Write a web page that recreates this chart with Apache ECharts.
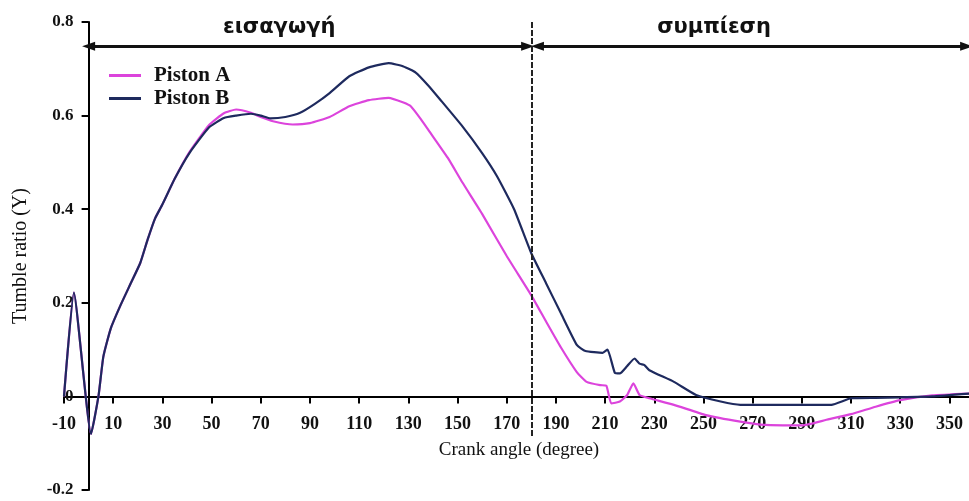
<!DOCTYPE html>
<html>
<head>
<meta charset="utf-8">
<script src="https://cdn.jsdelivr.net/npm/echarts@6/dist/echarts.min.js"></script>
<style>
  html, body { margin: 0; padding: 0; background: #ffffff; }
  #chart { width: 969px; height: 501px; }
</style>
</head>
<body>
<div id="chart"></div>
<script>
// Tumble ratio vs crank angle for two piston designs
var seriesNames = ['Piston A', 'Piston B'];

var anglesA = [-10, -6, 1, 4, 6, 9, 13, 17, 21, 24, 27, 30, 35, 41, 49, 55, 60, 66, 70, 75, 83, 90, 98, 106, 114, 122, 128, 131, 135, 139, 146, 152, 160, 170, 180, 186, 192, 198.5, 202.5, 208, 210.5, 212.5, 216, 219, 221.5, 224, 228, 238, 251, 265, 275, 290, 300, 310, 320, 330, 343, 358];
var tumbleA = [0, 0.222, -0.08, 0, 0.085, 0.145, 0.195, 0.24, 0.285, 0.335, 0.38, 0.41, 0.465, 0.522, 0.58, 0.605, 0.613, 0.606, 0.597, 0.588, 0.581, 0.584, 0.597, 0.62, 0.633, 0.638, 0.628, 0.62, 0.593, 0.563, 0.51, 0.457, 0.39, 0.30, 0.216, 0.16, 0.105, 0.052, 0.031, 0.024, 0.023, -0.015, -0.011, 0.003, 0.028, 0.003, -0.004, -0.018, -0.04, -0.054, -0.061, -0.062, -0.05, -0.038, -0.022, -0.008, 0.002, 0.006];

var anglesB = [-10, -6, 1, 4, 6, 9, 13, 17, 21, 24, 27, 30, 35, 41, 49, 55, 60, 66, 70, 74, 80, 86, 92, 98, 106, 114, 122, 128, 133, 138, 143, 152, 160, 166, 173, 180, 186, 192, 198.5, 202, 209, 211, 214, 216, 219, 222, 224, 226, 228, 238, 247, 257, 265, 285, 302, 310, 320, 330, 343, 358];
var tumbleB = [0, 0.222, -0.08, 0, 0.085, 0.145, 0.195, 0.24, 0.285, 0.335, 0.38, 0.41, 0.465, 0.52, 0.575, 0.595, 0.6, 0.604, 0.6, 0.594, 0.597, 0.606, 0.625, 0.648, 0.684, 0.703, 0.712, 0.705, 0.692, 0.665, 0.634, 0.577, 0.52, 0.471, 0.4, 0.306, 0.242, 0.178, 0.11, 0.097, 0.093, 0.1, 0.05, 0.049, 0.065, 0.081, 0.07, 0.067, 0.056, 0.031, 0.003, -0.011, -0.018, -0.018, -0.018, -0.004, -0.003, -0.002, 0, 0.006];

// Stroke phases (intake / compression) and their boundary angle
var phaseLabels = ['εισαγωγή', 'συμπίεση'];
var phaseLabelAngles = [77.5, 254.3];
var phaseBoundary = 180;
var phaseArrowSpans = [[0, 178.5], [182.5, 357]];
var arrowLevel = 0.748;
var labelLevel = 0.788;

var xTicks = { min: -10, max: 360, interval: 20 };
var yTicks = { min: -0.2, max: 0.8, interval: 0.2 };

function pairs(xs, ys) {
  return xs.map(function (x, i) { return [x, ys[i]]; });
}

var serif = '"Liberation Serif", "DejaVu Serif", serif';
var sans = '"DejaVu Sans", "Noto Sans", sans-serif';
var colorA = '#dc44dc';
var colorB = '#1e2a5e';

// Plot area; axes cross at the origin, so each axis is shifted in from the grid edge
var plot = { left: 64, top: 22, width: 910, height: 468 };
var xAxisShift = -plot.height * (0 - yTicks.min) / (yTicks.max - yTicks.min);
var yAxisShift = -plot.width * (0 - xTicks.min) / (xTicks.max - xTicks.min);

var chart = echarts.init(document.getElementById('chart'), null, { renderer: 'canvas' });

var arrowLines = phaseArrowSpans.map(function (s) {
  return [
    { coord: [s[0], arrowLevel], symbol: 'triangle', symbolSize: [9, 13], symbolRotate: 90 },
    { coord: [s[1], arrowLevel], symbol: 'triangle', symbolSize: [9, 13], symbolRotate: -90 }
  ];
});

var option = {
  animation: false,
  backgroundColor: '#ffffff',
  grid: { left: plot.left, top: plot.top, width: plot.width, height: plot.height, containLabel: false, outerBoundsMode: 'none' },
  legend: {
    data: [
      { name: seriesNames[0], icon: 'rect', itemStyle: { color: colorA } },
      { name: seriesNames[1], icon: 'rect', itemStyle: { color: colorB } }
    ],
    orient: 'vertical',
    left: 104,
    top: 59,
    itemGap: 0,
    itemWidth: 32,
    itemHeight: 3,
    textStyle: { fontFamily: serif, fontSize: 21, fontWeight: 'bold', color: '#111', padding: [0, 0, 0, 8], lineHeight: 23 }
  },
  xAxis: {
    type: 'value',
    min: xTicks.min,
    max: xTicks.max,
    interval: xTicks.interval,
    position: 'bottom',
    offset: xAxisShift,
    name: 'Crank angle (degree)',
    nameLocation: 'middle',
    nameGap: 44,
    nameTextStyle: { fontFamily: serif, fontSize: 19, color: '#111' },
    axisLine: { onZero: false, lineStyle: { color: '#000', width: 2 } },
    axisTick: { show: true, inside: false, length: 7, lineStyle: { color: '#000', width: 2 } },
    axisLabel: { fontFamily: serif, fontSize: 18, fontWeight: 'bold', color: '#111', margin: 19, showMaxLabel: false },
    splitLine: { show: false }
  },
  yAxis: {
    type: 'value',
    min: yTicks.min,
    max: yTicks.max,
    interval: yTicks.interval,
    position: 'left',
    offset: yAxisShift,
    name: 'Tumble ratio (Y)',
    nameLocation: 'middle',
    nameGap: 58,
    nameRotate: 90,
    nameTextStyle: { fontFamily: serif, fontSize: 20, color: '#111' },
    axisLine: { onZero: false, lineStyle: { color: '#000', width: 2 } },
    axisTick: { show: true, inside: false, length: 7, lineStyle: { color: '#000', width: 2 } },
    axisLabel: { fontFamily: serif, fontSize: 17, fontWeight: 'bold', color: '#111', margin: 15 },
    splitLine: { show: false }
  },
  series: [
    {
      name: seriesNames[0],
      type: 'line',
      data: pairs(anglesA, tumbleA),
      symbol: 'none',
      smooth: 0.15,
      color: colorA,
      lineStyle: { color: colorA, width: 2.2 },
      z: 3
    },
    {
      name: seriesNames[1],
      type: 'line',
      data: pairs(anglesB, tumbleB),
      symbol: 'none',
      smooth: 0.15,
      color: colorB,
      lineStyle: { color: colorB, width: 2.2 },
      z: 4,
      markLine: {
        silent: true,
        animation: false,
        label: { show: false },
        emphasis: { disabled: true },
        lineStyle: { color: '#111', width: 3, type: 'solid' },
        data: arrowLines.concat([
          [
            { coord: [phaseBoundary, yTicks.max], symbol: 'none', lineStyle: { type: [6, 2], width: 2, color: '#222' } },
            { coord: [phaseBoundary, -0.085], symbol: 'none' }
          ]
        ])
      },
      markPoint: {
        silent: true,
        animation: false,
        symbol: 'circle',
        symbolSize: 1,
        itemStyle: { color: 'rgba(0,0,0,0)' },
        label: {
          show: true,
          position: 'inside',
          fontFamily: sans,
          fontSize: 21,
          fontWeight: 'bold',
          color: '#111'
        },
        data: phaseLabels.map(function (t, i) {
          return { coord: [phaseLabelAngles[i], labelLevel], value: t, label: { formatter: t } };
        })
      }
    }
  ]
};

chart.setOption(option);
</script>
</body>
</html>
